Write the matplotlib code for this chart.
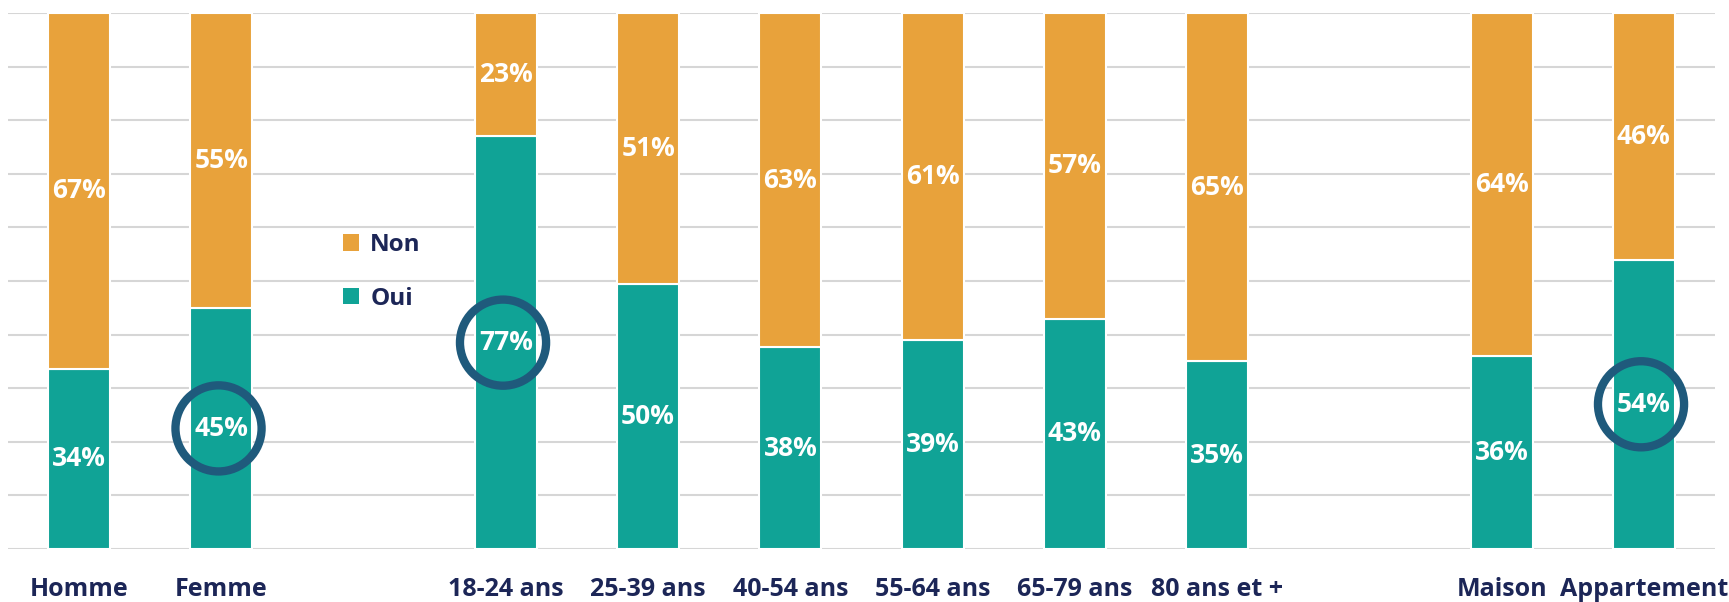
import matplotlib
matplotlib.use("Agg")
import matplotlib.pyplot as plt
from matplotlib.patches import Patch
import numpy as np

categories = ["Homme", "Femme", "18-24 ans", "25-39 ans", "40-54 ans", "55-64 ans",
              "65-79 ans", "80 ans et +", "Maison", "Appartement"]
oui = [34, 45, 77, 50, 38, 39, 43, 35, 36, 54]
non = [67, 55, 23, 51, 63, 61, 57, 65, 64, 46]
highlighted = ["Femme", "18-24 ans", "Appartement"]

positions = [0, 1, 3, 4, 5, 6, 7, 8, 10, 11]

ORANGE = "#E8A23B"
TEAL = "#10A396"
NAVY = "#1C2657"
RING = "#1F5A7C"

plt.rcParams['font.family'] = ['Open Sans', 'DejaVu Sans']

W, H = 1729, 602
fig = plt.figure(figsize=(W / 100, H / 100), dpi=100)
ax = fig.add_axes([8 / W, (H - 549) / H, (1715 - 8) / W, (549 - 13) / H])

oui_a = np.array(oui, dtype=float)
non_a = np.array(non, dtype=float)
tot = oui_a + non_a
oui_f = oui_a / tot
non_f = non_a / tot

bw = 0.435
ax.bar(positions, oui_f, width=bw, color=TEAL, edgecolor="white", linewidth=1.5, zorder=3)
ax.bar(positions, non_f, width=bw, bottom=oui_f, color=ORANGE, edgecolor="white", linewidth=1.5, zorder=3)

for p, c, o, of, n, nf in zip(positions, categories, oui, oui_f, non, non_f):
    ax.text(p, of / 2, f"{o}%", ha="center", va="center", color="white",
            fontsize=19, fontweight="bold", zorder=5)
    ax.text(p, of + nf / 2, f"{n}%", ha="center", va="center", color="white",
            fontsize=19, fontweight="bold", zorder=5)
    if c in highlighted:
        ax.scatter([p - 0.02], [of / 2], s=62 ** 2, facecolors="none", edgecolors=RING,
                   linewidths=6, zorder=6, clip_on=False)

ax.set_xlim(-0.5, 11.5)
ax.set_ylim(0, 1)
ax.set_yticks(np.arange(0, 1.01, 0.1))
ax.set_yticklabels([])
ax.tick_params(axis="y", length=0)
ax.grid(axis="y", color="#D6D6D6", linewidth=1.5, zorder=0)
ax.set_axisbelow(True)
ax.set_xticks(positions)
ax.set_xticklabels(categories, fontsize=18, fontweight="bold", color=NAVY)
ax.tick_params(axis="x", length=0, pad=20)
for s in ax.spines.values():
    s.set_visible(False)

handles = [Patch(facecolor=ORANGE, edgecolor="none"), Patch(facecolor=TEAL, edgecolor="none")]
leg = ax.legend(handles, ["Non", "Oui"], loc="upper left",
                bbox_to_anchor=(321 / W, (H - 211) / H), bbox_transform=fig.transFigure,
                frameon=False, handlelength=0.68, handleheight=0.68, handletextpad=0.45,
                labelspacing=1.22, prop={"size": 17.5, "weight": "bold"})
for t in leg.get_texts():
    t.set_color(NAVY)

fig.savefig("out.png", dpi=100)
